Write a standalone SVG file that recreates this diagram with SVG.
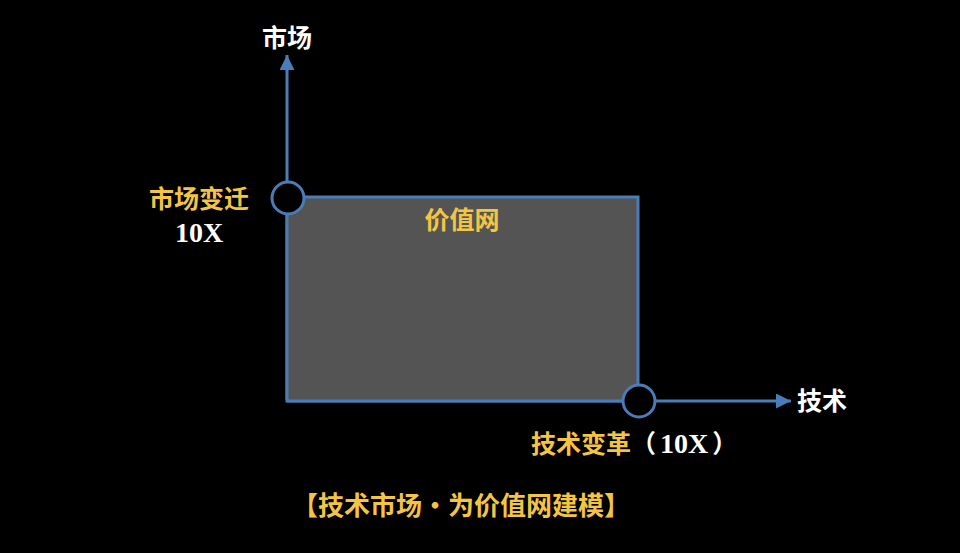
<svg xmlns="http://www.w3.org/2000/svg" width="960" height="553" viewBox="0 0 960 553">
<defs>
<marker id="arr" viewBox="0 0 10 10" refX="10" refY="5" markerWidth="5" markerHeight="5" orient="auto" markerUnits="strokeWidth">
<path d="M0,0 L10,5 L0,10 Z" fill="#4a7cb8"/>
</marker>
<style>
.cn{font-family:"Noto Sans CJK SC","Noto Sans",sans-serif;font-weight:bold;font-size:25px}
.en{font-family:"Liberation Serif",serif;font-weight:bold;font-size:28px}
.cap{font-size:26px}
.y{fill:#f4c443}
.w{fill:#ffffff}
.ax{stroke:#4a7cb8;stroke-width:3;fill:none}
</style>
</defs>
<rect x="0" y="0" width="960" height="553" fill="#000"/>
<g id="connectors">
<line class="ax" x1="287" y1="400" x2="287" y2="55" marker-end="url(#arr)"/>
<line class="ax" x1="287" y1="401" x2="791" y2="401" marker-end="url(#arr)"/>
</g>
<g id="value-network">
<rect x="287" y="197" width="351" height="204" fill="#545454" stroke="#4a7cb8" stroke-width="3"/>
<text class="cn y" x="462" y="229" text-anchor="middle">价值网</text>
</g>
<g id="market-axis-label">
<text class="cn w" x="287" y="47" text-anchor="middle">市场</text>
</g>
<g id="tech-axis-label">
<text class="cn w" x="822" y="410" text-anchor="middle">技术</text>
</g>
<g id="market-shift">
<circle cx="288" cy="198" r="16" fill="#000" stroke="#4a7cb8" stroke-width="3"/>
<text class="cn y" x="199" y="208" text-anchor="middle">市场变迁</text>
<text class="en w" x="199" y="242" text-anchor="middle">10X</text>
</g>
<g id="tech-change">
<circle cx="639" cy="401" r="16" fill="#000" stroke="#4a7cb8" stroke-width="3"/>
<text x="531" y="453"><tspan class="cn y">技术变革</tspan><tspan class="cn w">（</tspan><tspan class="en w" dx="4">10X</tspan><tspan class="cn w" dx="4">）</tspan></text>
</g>
<g id="caption">
<text class="cn cap y" x="461" y="515" text-anchor="middle">【技术市场·为价值网建模】</text>
</g>
</svg>
